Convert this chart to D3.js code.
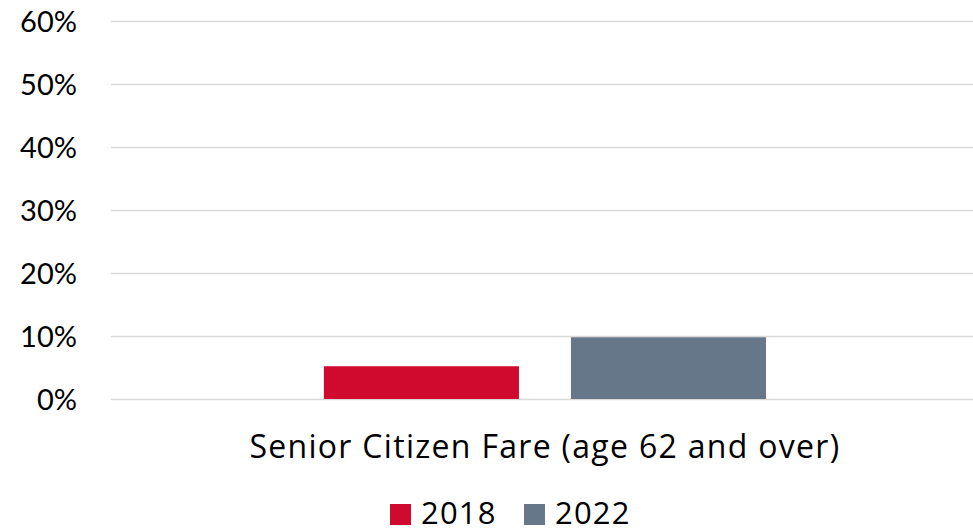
<!DOCTYPE html>
<html>
<head>
<meta charset="utf-8">
<script src="https://cdn.jsdelivr.net/npm/d3@7"></script>
<style>
  body { margin: 0; background: #fff; }
  svg text { fill: #000; }
</style>
</head>
<body>
<svg id="chart" width="973" height="529"></svg>
<script>
(function (d3) {
    'use strict';

    var categories = ['Senior Citizen Fare (age 62 and over)'],
        seriesNames = ['2018', '2022'],
        seriesValues = [[0.052], [0.098]],
        seriesColors = ['#D00A2E', '#667789'],
        yTicks = [0, 0.1, 0.2, 0.3, 0.4, 0.5, 0.6];

    var FONT = '"Open Sans", Lato, sans-serif';

    var svg = d3.select('#chart'),
        left = 111,
        right = 973,
        top = 21,
        bottom = 399;

    var y = d3.scaleLinear().domain([0, 0.6]).range([bottom, top]);

    var x0 = d3.scaleBand()
        .domain(categories)
        .range([left, right])
        .paddingInner(0.322)
        .paddingOuter(0.322)
        .align(0.507);

    var x1 = d3.scaleBand()
        .domain(seriesNames)
        .range([0, x0.bandwidth()])
        .paddingInner(0.2105)
        .paddingOuter(0);

    // gridlines + tick labels
    var yAxis = d3.axisLeft(y)
        .tickValues(yTicks)
        .tickFormat(d3.format('.0%'))
        .tickSize(-(right - left))
        .tickPadding(34);

    var axisG = svg.append('g')
        .attr('transform', 'translate(' + left + ',0)')
        .call(yAxis);
    axisG.select('.domain').remove();
    axisG.selectAll('.tick line')
        .attr('stroke', '#D9D9D9')
        .attr('stroke-width', 1.5);
    axisG.selectAll('.tick text')
        .attr('font-size', 29)
        .attr('font-family', 'Lato, sans-serif')
        .attr('fill', '#000')
        .attr('dy', '0.35em');

    // bars
    var groups = svg.append('g').selectAll('g')
        .data(categories)
        .join('g')
        .attr('transform', function (d) { return 'translate(' + x0(d) + ',0)'; });

    groups.selectAll('rect')
        .data(function (d, i) {
            return seriesNames.map(function (s, j) {
                return { key: s, value: seriesValues[j][i], color: seriesColors[j] };
            });
        })
        .join('rect')
        .attr('x', function (d) { return x1(d.key); })
        .attr('width', x1.bandwidth())
        .attr('y', function (d) { return y(d.value); })
        .attr('height', function (d) { return y(0) - y(d.value); })
        .attr('fill', function (d) { return d.color; });

    // category label
    svg.append('g').selectAll('text')
        .data(categories)
        .join('text')
        .attr('x', function (d) { return x0(d) + x0.bandwidth() / 2; })
        .attr('y', 458)
        .attr('text-anchor', 'middle')
        .attr('font-family', FONT)
        .attr('font-size', 32)
        .attr('letter-spacing', 1.3)
        .text(function (d) { return d; });

    // legend
    var legendPos = [390, 524];
    var legend = svg.append('g').selectAll('g')
        .data(seriesNames)
        .join('g')
        .attr('transform', function (d, i) { return 'translate(' + legendPos[i] + ',504)'; });
    legend.append('rect')
        .attr('width', 21)
        .attr('height', 21)
        .attr('fill', function (d, i) { return seriesColors[i]; });
    legend.append('text')
        .attr('x', 31)
        .attr('y', 20)
        .attr('font-family', FONT)
        .attr('font-size', 31)
        .attr('letter-spacing', 1.2)
        .text(function (d) { return d; });
}(window.d3));
</script>
</body>
</html>
